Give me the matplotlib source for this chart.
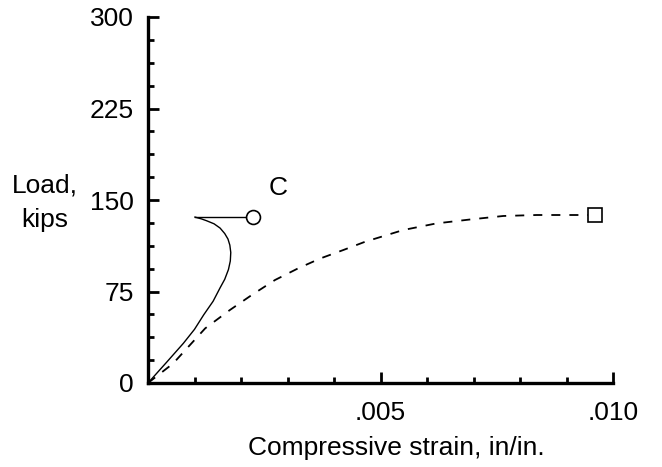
import matplotlib
matplotlib.use("Agg")
import matplotlib.pyplot as plt
from matplotlib.ticker import MultipleLocator, FixedLocator

plt.rcParams['font.family'] = ['Liberation Sans', 'DejaVu Sans']

# Solid curve (C)
solid_x = [0, 0.0004, 0.00076, 0.00100, 0.0012, 0.00140, 0.00155, 0.00165, 0.00173, 0.00177,
           0.00178, 0.00176, 0.00172, 0.00165, 0.00155, 0.00142, 0.00126, 0.00115, 0.00101]
solid_y = [0, 17, 32.5, 44, 56, 67, 78, 85, 93, 100,
           107, 113, 118, 122.5, 127, 130.5, 133, 134.5, 136]
# horizontal segment to circle marker
hook_x = [0.00101, 0.00226]
hook_y = [136, 136]
circle_x, circle_y = 0.00226, 136

# Dashed curve
dash_x = [0, 0.00054, 0.00123, 0.00176, 0.00223, 0.00273, 0.00323, 0.0037, 0.0042, 0.00467,
          0.00549, 0.0062, 0.00692, 0.00764, 0.00836, 0.00908, 0.00961]
dash_y = [0, 16, 44.8, 59.8, 72.1, 84.4, 94, 102, 109, 115.8,
          125.4, 130.8, 134, 136.9, 137.7, 137.7, 137.7]
square_x, square_y = 0.00961, 137.5

yticks = [0, 75, 150, 225, 300]
ytick_labels = ['0', '75', '150', '225', '300']
xticks = [0.005, 0.010]
xtick_labels = ['.005', '.010']

FS = 19

fig = plt.figure(figsize=(6.62, 4.67), dpi=100)
ax = fig.add_axes([148/662, 1-383/467, (613-148)/662, (383-17)/467])

ax.plot(solid_x, solid_y, color='black', lw=1.0)
ax.plot(hook_x, hook_y, color='black', lw=1.0)
ax.plot([circle_x], [circle_y], marker='o', ms=10, mfc='white', mec='black', mew=1.2, ls='none', zorder=5)
ax.plot(dash_x, dash_y, color='black', lw=1.3, dashes=(5, 5))
ax.plot([square_x], [square_y], marker='s', ms=10, mfc='white', mec='black', mew=1.2, ls='none', zorder=5, clip_on=False)

ax.text(0.00279, 160, 'C', fontsize=FS, ha='center', va='center')

ax.set_xlim(0, 0.010)
ax.set_ylim(0, 300)
ax.spines['top'].set_visible(False)
ax.spines['right'].set_visible(False)
ax.spines['left'].set_linewidth(2.4)
ax.spines['bottom'].set_linewidth(2.4)

ax.yaxis.set_major_locator(FixedLocator(yticks))
ax.set_yticklabels(ytick_labels)
ax.yaxis.set_minor_locator(MultipleLocator(18.75))
ax.xaxis.set_major_locator(FixedLocator(xticks))
ax.set_xticklabels(xtick_labels)
ax.xaxis.set_minor_locator(MultipleLocator(0.001))

ax.tick_params(which='major', direction='in', length=8, width=2, labelsize=FS)
ax.tick_params(which='minor', direction='in', length=4, width=2)
ax.tick_params(axis='y', which='major', pad=10)
ax.tick_params(axis='x', which='major', pad=13)

fig.text(45/662, 1-193/467, 'Load,', fontsize=FS, ha='center', va='baseline')
fig.text(45/662, 1-227/467, 'kips', fontsize=FS, ha='center', va='baseline')
fig.text(396/662, 1-455/467, 'Compressive strain, in/in.', fontsize=FS, ha='center', va='baseline')

fig.savefig('out.png', dpi=100)
